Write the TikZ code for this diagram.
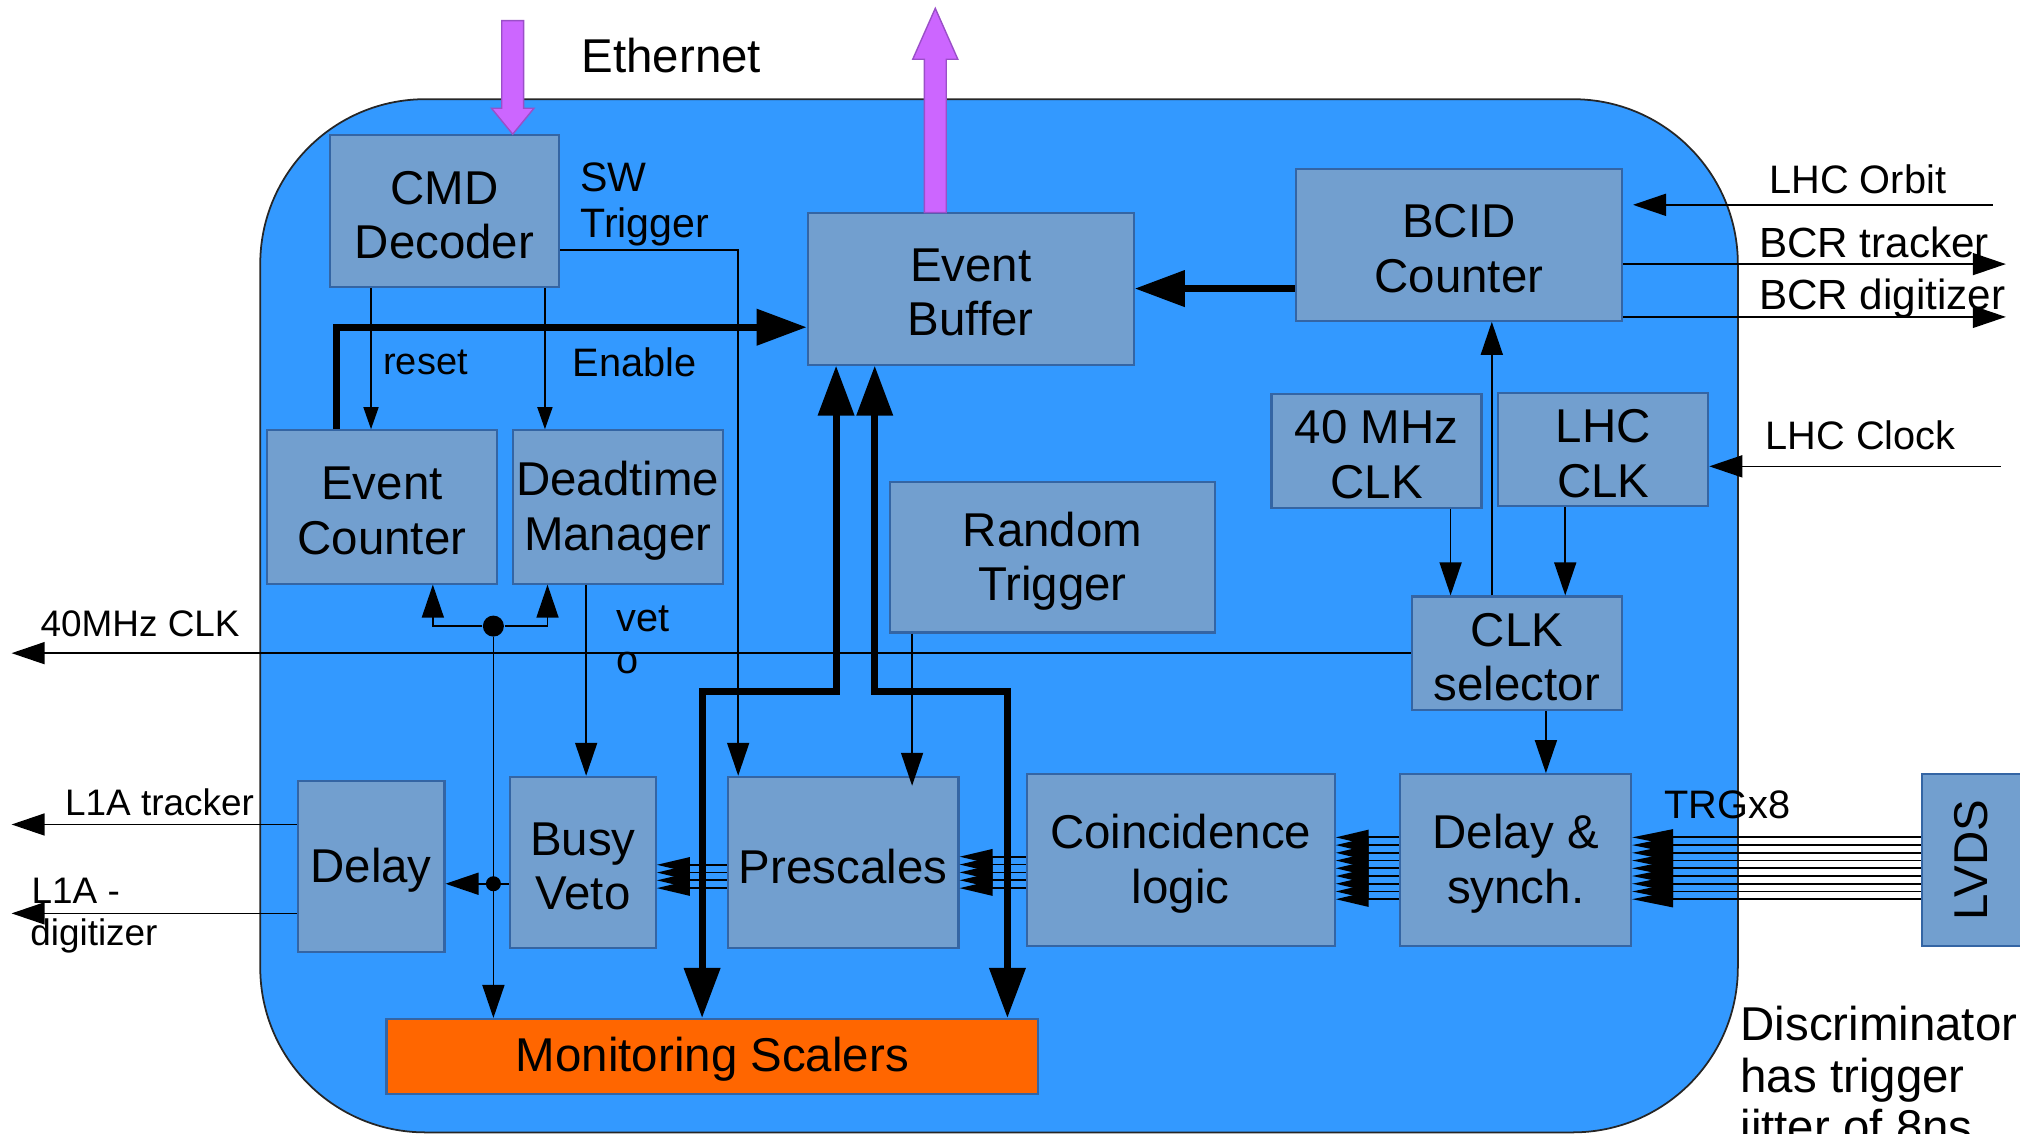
\documentclass[tikz,border=0pt]{standalone}
\usepackage{fontspec}
\setmainfont{Liberation Sans}
\usetikzlibrary{arrows.meta,calc}
\definecolor{bg}{HTML}{3399FF}
\definecolor{boxfill}{HTML}{729FCF}
\definecolor{boxline}{HTML}{3465A4}
\definecolor{orng}{HTML}{FF6600}
\definecolor{purp}{HTML}{CC66FF}
\definecolor{purpline}{HTML}{9A4FC8}
\newlength\ux \setlength\ux{0.012883cm}
\newcommand\bxf{\fontsize{13.5}{15.5}\selectfont}
\newcommand\lbf{\fontsize{11.3}{13.5}\selectfont}
\newcommand\lsf{\fontsize{10.5}{12.5}\selectfont}
\newcommand\lbb{\fontsize{12}{14}\selectfont}
\newcommand\bx[6]{\node[box, minimum width={(#4-#2)*\ux}, minimum height={(#5-#3)*\ux}] (#1) at ({(#2+#4)/2},{(#3+#5)/2}) {};
  \node[boxtext] (#1t) at ($(#1.center)+(0,3)$) {#6};}
\begin{document}
\begin{tikzpicture}[x=0.012883cm, y=-0.012883cm,
  box/.style={draw=boxline, fill=boxfill, line width=0.6pt, inner sep=0pt},
  boxtext/.style={inner sep=0pt, align=center, font=\bxf},
  con/.style={line width=0.45pt, -{Triangle[length=0.33cm,width=0.22cm]}},
  con2/.style={line width=0.45pt, -{Triangle[length=0.22cm,width=0.15cm]}},
  bus/.style={line width=0.5pt, -{Triangle[length=0.33cm,width=0.15cm]}},
  busl/.style={line width=0.5pt, -{Triangle[length=0.41cm,width=0.16cm]}},
  fat/.style={line width=2pt, -{Triangle[length=0.5cm,width=0.35cm]}},
  fatb/.style={line width=2pt, {Triangle[length=0.5cm,width=0.35cm]}-{Triangle[length=0.5cm,width=0.35cm]}},
  lab/.style={anchor=base west, inner sep=0pt, font=\lbf},
  dot/.style={circle, fill=black, inner sep=0pt}]
\useasboundingbox (0,0) rectangle (1568,880.2);
\clip (0,0) rectangle (1568,880.2);
\draw[fill=bg, draw=black!85, line width=0.5pt, rounded corners=1.65cm] (202,77) rectangle (1349,879);

% boxes
\bx{cmd}{256}{105}{434}{223}{CMD\\Decoder}
\bx{eb}{627}{165}{880}{283}{Event\\Buffer}
\bx{bcid}{1006}{131}{1259}{249}{BCID\\Counter}
\bx{mhz}{987}{306}{1150}{394}{40 MHz\\CLK}
\bx{lhcclk}{1163}{305}{1326}{393}{LHC\\CLK}
\bx{evc}{207}{334}{386}{453}{Event\\Counter}
\bx{dtm}{398}{334}{561}{453}{Deadtime\\Manager}
\bx{rnd}{691}{374}{943}{491}{Random\\Trigger}
\bx{clksel}{1096}{463}{1259}{551}{CLK\\selector}
\bx{delay}{231}{606}{345}{739}{Delay}
\bx{busy}{396}{603}{509}{736}{Busy\\Veto}
\bx{pre}{565}{603}{744}{736}{Prescales}
\bx{coin}{797}{601}{1036}{734}{Coincidence\\logic}
\bx{dsync}{1087}{601}{1266}{734}{Delay \&\\synch.}
\node[box, minimum width={88*\ux}, minimum height={133*\ux}] (lvds) at (1536,667.5) {};
\node[rotate=90, inner sep=0pt, font=\bxf] (lvdst) at (1530,667.5) {LVDS};
\node[box, fill=orng, minimum width={506*\ux}, minimum height={58*\ux}] (mon) at (553,820) {};
\node[boxtext] (mont) at (553,822) {Monitoring Scalers};

% labels
\node[lab, font=\fontsize{13.5}{15}\selectfont] (eth) at (451,56.5) {Ethernet};
\node[lab, font=\fontsize{11.7}{14}\selectfont] (sw1) at (450,148.5) {SW};
\node[lab, font=\fontsize{11.7}{14}\selectfont] (sw2) at (450,184) {Trigger};
\node[lab, font=\fontsize{10.8}{13}\selectfont] (rst) at (297,291) {reset};
\node[lab] (ena) at (444,292) {Enable};
\node[lab] (orb) at (1373,150) {LHC Orbit};
\node[lab, font=\lbb] (bcrt) at (1365,199.5) {BCR tracker};
\node[lab, font=\lbb] (bcrd) at (1365,240.5) {BCR digitizer};
\node[lab] (lclk) at (1370,349) {LHC Clock};
\node[lab, font=\lsf] (c40) at (31,494.4) {40MHz CLK};
\node[lab] (vet) at (478,490) {vet};
\node[lab] (vo) at (478,522.8) {o};
\node[lab, font=\lsf] (l1t) at (50,633) {L1A tracker};
\node[lab, font=\lsf] (l1da) at (24,701.7) {L1A -};
\node[lab, font=\lsf] (l1db) at (23,733.6) {digitizer};
\node[lab] (trg) at (1291.5,635.7) {TRGx8};
\node[lab, font=\bxf] (dis1) at (1350.5,808) {Discriminator};
\node[lab, font=\bxf] (dis2) at (1350.5,848) {has trigger};
\node[lab, font=\bxf] (dis3) at (1350.5,888) {jitter of 8ns};

% dots
\node[dot, minimum size=0.21cm] (d1) at (383,486) {};
\node[dot, minimum size=0.15cm] (d2) at (383,686) {};

% helper coordinates
\coordinate (xsw) at (573,194);
\coordinate (xr) at (288,0);
\coordinate (xe) at (423,0);
\coordinate (jt) at (261,254);
\coordinate (bl) at (545,537);
\coordinate (br) at (782,537);
\coordinate (ul) at (649,0);
\coordinate (ur) at (679,0);
\coordinate (xa) at (336,0);
\coordinate (xb) at (425,0);
\coordinate (xv) at (455,0);
\coordinate (xrt) at (708,0);
\coordinate (x40) at (1126,0);
\coordinate (xlc) at (1215,0);
\coordinate (xbc) at (1158,0);
\coordinate (xds) at (1200,0);
\coordinate (orbin) at (1547,159);
\coordinate (bcrtend) at (1557,205);
\coordinate (bcrdend) at (1557,246);
\coordinate (lcin) at (1553,362);
\coordinate (c40end) at (9,507);
\coordinate (l1tend) at (9,640);
\coordinate (l1dend) at (9,709);
\coordinate (ethx) at (398,0);

% ethernet arrows
\filldraw[fill=purp, draw=purpline, line width=0.4pt] (389.5,16) -- (406.5,16) -- (406.5,84) -- (414.5,84) -- (cmd.north -| ethx) -- (381.5,84) -- (389.5,84) -- cycle;
\filldraw[fill=purp, draw=purpline, line width=0.4pt] (717.5,165) -- (717.5,46) -- (708.5,46) -- (726,6.5) -- (743.5,46) -- (734.5,46) -- (734.5,165) -- cycle;

% thin connectors
\draw[con] (cmd.east |- xsw) -| (pre.north -| xsw);
\draw[con2] (cmd.south -| xr) -- (evc.north -| xr);
\draw[con2] (cmd.south -| xe) -- (dtm.north -| xe);
\draw[con] (d1) -| (evc.south -| xa);
\draw[con] (d1) -| (dtm.south -| xb);
\draw[con] (d1) -- (mon.north -| d1);
\draw[con] (busy.west |- d2) -- (delay.east |- d2);
\draw[con] (dtm.south -| xv) -- (busy.north -| xv);
\draw[con, shorten >=-0.1cm] (rnd.south -| xrt) -- (pre.north -| xrt);
\draw[con] (mhz.south -| x40) -- (clksel.north -| x40);
\draw[con] (lhcclk.south -| xlc) -- (clksel.north -| xlc);
\draw[con] (clksel.north -| xbc) -- (bcid.south -| xbc);
\draw[con] (clksel.south -| xds) -- (dsync.north -| xds);
\draw[con, shorten >=0.1cm] (orbin) -- (bcid.east |- orbin);
\draw[con] (bcid.east |- bcrtend) -- (bcrtend);
\draw[con] (bcid.east |- bcrdend) -- (bcrdend);
\draw[con] (lcin) -- (lhcclk.east |- lcin);
\draw[con] (clksel.west |- c40end) -- (c40end);
\draw[con] (delay.west |- l1tend) -- (l1tend);
\draw[con] (delay.west |- l1dend) -- (l1dend);

% buses
\foreach \i in {0,...,3} {
  \coordinate (t) at (0,{671.3+6.03*\i});
  \draw[bus] (pre.west |- t) -- (busy.east |- t);
}
\foreach \i in {0,...,4} {
  \coordinate (t) at (0,{665+6.1*\i});
  \draw[bus] (coin.west |- t) -- (pre.east |- t);
}
\foreach \i in {0,...,8} {
  \coordinate (t) at (0,{650+6*\i});
  \draw[bus] (dsync.west |- t) -- (coin.east |- t);
  \draw[busl] (lvds.west |- t) -- (dsync.east |- t);
}

% thick connectors
\draw[fat] (evc.north -| jt) |- (eb.west |- jt);
\draw[fat] (bcid.west |- eb.east) -- (eb.east);
\draw[fatb] (eb.south -| ul) |- (bl) -- (mon.north -| bl);
\draw[fatb] (eb.south -| ur) |- (br) -- (mon.north -| br);
\end{tikzpicture}
\end{document}
